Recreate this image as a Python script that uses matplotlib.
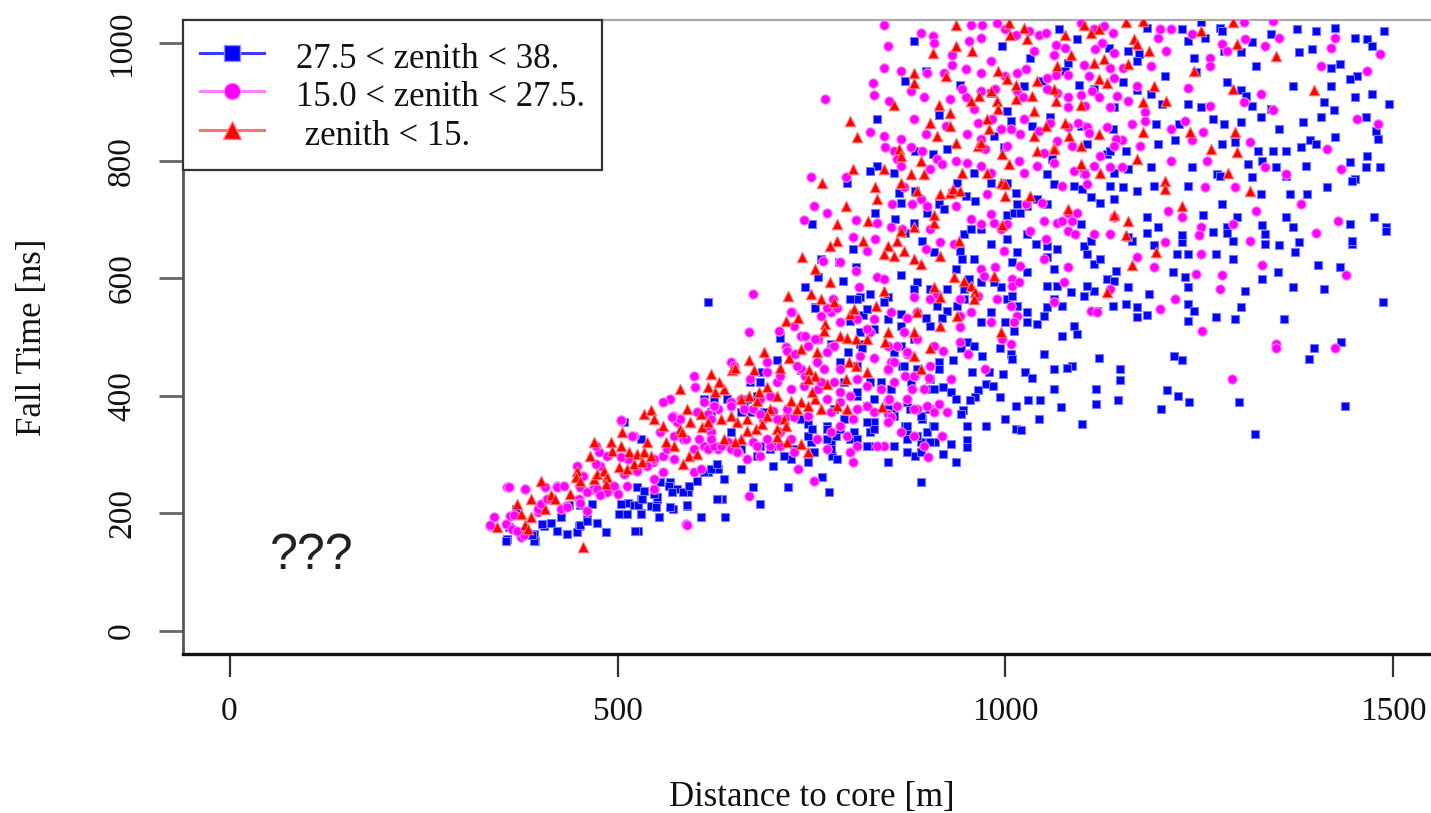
import matplotlib
matplotlib.use("Agg")
import matplotlib.pyplot as plt
from matplotlib.lines import Line2D

plt.rcParams['font.family'] = ['Liberation Serif', 'DejaVu Serif']

# ---------------- data (distance to core [m], fall time [ns]) ----------------
legend_labels = ['27.5 < zenith < 38.', '15.0 < zenith < 27.5.', ' zenith < 15.']
x_ticks = [0, 500, 1000, 1500]
y_ticks = [0, 200, 400, 600, 800, 1000]

# zenith < 15
red_pts = [
    (455,143),(581,411),
    (800,868),(809,840),(804,786),(764,763),(832,755),(835,735),(795,723),(823,697),(783,692),(783,663),
    (817,663),(774,655),(738,636),(755,615),(774,594),(720,570),(749,573),(762,565),
    (1155,1036),(1177,1039),(1252,1022),(1293,1036),(1166,1007),(1298,999),(1169,999),(1185,988),
    (1158,965),(1243,953),(1348,979),(1191,928),(1293,922),(1398,920),(1177,900),(1207,902),(1177,849),
    (1238,849),(1296,849),(1265,820),(1298,815),(1169,803),(1287,780),(1205,766),(1205,752),(1315,749),
    (1158,698),(1227,724),(1163,622),(1155,673),(1194,644),
]
red_band = [
    (345,176),(371,216),(388,224),(375,199),(381,179),(401,255),(414,230),(420,224),(407,207),(388,193),
    (439,233),(448,272),(446,261),(452,255),(470,258),(474,267),(482,272),(487,261),(485,250),(470,321),
    (465,298),(491,321),(493,306),(504,315),(506,338),(515,304),(502,278),(512,275),(521,284),(525,301),
    (534,304),(538,321),(532,287),(543,298),(534,369),(543,375),(547,360),(558,349),(562,321),(573,315),
    (581,343),(583,338),(594,355),(609,346),(607,369),(590,377),(592,298),(585,284),(603,301),(384,173),
    (620,437),(648,443),(652,448),(669,460),(676,443),(689,474),(710,448),(717,528),(732,533),(768,522),
    (766,511),(779,559),(800,539),(805,548),(787,502),(796,499),(807,496),(822,496),(845,491),(736,479),
    (757,474),(721,465),(747,443),(755,434),(745,428),(798,457),(807,451),(822,440),(794,428),
    (882,468),(903,482),(891,445),(833,553),(616,414),(626,406),(637,411),(631,423),(659,394),(669,400),
    (680,391),(682,406),(693,414),(706,400),(697,377),(723,391),(736,389),(745,383),(731,377),(755,394),
    (751,406),(770,420),(762,377),(714,360),(693,366),(667,360),(654,355),(646,366),(633,360),(616,355),
    (637,326),(659,326),(667,340),(678,343),(686,352),(706,343),(717,349),(719,321),(736,318),(745,304),
    (706,329),(783,383),(796,377),(841,380),(652,321),
]
red_top = [
    (936,1032),(1004,1035),(1024,1027),(1101,1032),(1110,1018),(1120,1024),(1028,1007),(1006,1015),
    (1077,1015),(936,996),(957,987),(906,984),(1084,981),(1067,961),(1114,967),(1127,973),(1131,933),
    (1120,939),(882,950),(882,933),(923,945),(991,953),(1002,939),(1013,930),(1041,936),(1062,922),
    (981,919),(966,911),(955,902),(989,902),(1013,905),(1034,911),(1065,902),(1097,896),(856,896),
    (914,896),(929,882),(976,871),(991,888),(903,865),(929,859),(912,842),(979,854),(1037,885),
    (1037,842),(1052,859),(1077,865),(1062,823),(1082,842),(1120,845),(1097,825),(964,825),(968,831),
    (996,811),(936,831),(863,820),(865,808),(891,800),(843,786),(944,780),(1004,794),(1041,817),
    (1062,820),(1097,794),(1122,780),(976,780),(878,777),(895,777),
    (865,763),(886,749),(916,743),(929,746),(933,752),(942,749),(994,763),(1000,760),(1032,741),
    (1000,741),(908,695),(908,707),(882,687),(865,681),(860,664),(848,655),(843,641),(856,638),(869,647),
    (882,633),(891,624),(940,664),(916,638),(934,602),(946,596),(955,587),(961,576),(959,565),(908,585),
    (916,568),(985,604),(996,690),(1080,718),(1140,707),(1131,576),(843,579),(886,542),(938,536),
    (916,519),(848,508),(882,508),(994,508),
]

# 15.0 < zenith < 27.5
magenta_pts = [
    (358,245),(336,178),(375,160),(362,195),(381,241),(397,202),(414,224),(422,246),(433,212),(450,224),
    (461,204),(468,241),(478,280),(456,263),(495,241),(504,357),(487,297),(513,292),(521,331),(546,287),
    (559,270),(568,394),(572,365),(598,433),(600,414),(581,360),(585,326),(611,314),(616,369),(629,377),
    (646,457),(646,389),(659,394),(620,338),(629,309),(642,321),(655,304),(667,292),(598,270),(607,275),
    (588,182),(669,229),(684,394),(697,399),(688,360),(706,360),(719,365),(675,321),(697,314),(684,297),
    (727,304),(710,338),(732,275),(753,255),(706,423),(723,411),(736,445),(742,433),(758,411),(766,445),
    (775,372),(787,389),(804,360),(804,287),(770,309),
    (829,932),(830,913),(768,905),(826,849),(749,772),(794,772),(753,723),(770,712),(740,700),(807,700),
    (835,695),(804,670),(832,667),(822,646),(765,629),(787,627),(807,612),(835,602),(674,573),(778,565),
    (811,585),(725,542),(669,508),(736,502),(775,483),(758,496),(717,483),(813,468),(826,508),(860,485),
    (1196,1010),(1241,1016),(1309,1007),(1353,1010),(1425,1010),(1334,996),(1279,999),(1199,1024),
    (1213,1024),(1307,1036),(1345,1039),(1207,988),(1263,976),(1285,988),(1420,993),(1483,982),
    (1152,959),(1188,962),(1263,962),(1406,962),(1466,953),(1169,928),(1235,925),(1329,914),(1158,902),
    (1180,883),(1263,894),(1307,900),(1345,886),(1163,863),(1180,868),(1213,854),(1232,868),(1254,849),
    (1453,871),(1480,863),(1150,835),(1174,826),(1241,835),(1315,832),(1414,820),(1150,789),(1213,800),
    (1260,800),(1334,789),(1433,786),(1257,755),(1296,755),(1362,778),(1381,727),(1210,715),(1227,704),
    (1252,687),(1293,693),(1323,715),(1428,698),
    (1169,636),(1205,661),(1252,641),(1315,664),(1400,678),(1191,619),(1246,607),(1279,605),(1331,622),
    (1439,605),(1276,582),(1199,548),(1218,565),(1249,673),
    (1253,511),(1348,488),(1348,482),(1425,482),(1292,428),(973,445),(930,428),(918,332),(900,295),
    (843,315),(886,377),(925,372),(914,386),(995,496),(1007,488),(952,471),(941,491),(902,431),(884,434),
    (871,434),(880,411),(848,392),(848,369),(853,363),(920,477),(873,471),(853,457),(848,443),
]
magenta_band = [
    (360,244),(381,241),(341,193),(336,179),(356,182),(366,196),(364,173),(397,207),(401,216),(407,244),
    (422,244),(431,247),(409,224),(427,207),(435,210),(448,281),(452,244),(461,236),(472,284),(474,241),
    (476,304),(487,236),(495,247),(500,233),(508,267),(512,247),(504,295),(525,272),(538,281),(547,292),
    (547,258),(547,241),(558,298),(564,309),(573,332),(577,355),(588,326),(573,292),(598,309),(605,326),
    (616,309),(620,338),(624,315),(624,383),(620,360),(603,372),(581,360),(570,363),(558,389),(555,338),
    (519,332),(504,358),(472,315),(590,179),(478,230),(452,218),(379,162),(371,170),
    (708,511),(723,542),(727,519),(742,502),(755,496),(745,485),(719,477),(729,471),(757,457),(770,474),
    (779,485),(762,536),(775,542),(787,525),(770,550),(783,550),(809,531),(822,513),(830,531),
    (848,485),(830,465),(848,445),(856,457),(873,474),(886,496),
    (908,485),(903,451),(882,434),(895,411),(873,394),(856,423),(839,411),(822,417),(809,428),(787,445),
    (779,423),(762,423),(740,417),(731,451),(710,434),(693,440),(693,457),(671,428),(650,451),(611,389),
    (624,383),(646,383),(663,377),(674,377),(684,369),(701,374),(719,377),(727,363),(745,366),(770,394),
    (787,406),(800,400),(809,377),(822,383),(830,372),(850,394),(860,383),(882,377),(899,383),(908,372),
    (616,349),(620,326),(633,315),(646,309),(654,304),(680,315),(693,326),(710,315),(723,326),(757,326),
    (775,338),(787,349),(796,332),(809,315),(800,304),(835,315),(848,355),(865,338),(882,332),(895,315),
]
magenta_top = [
    (843,1032),(848,996),(891,1018),(906,1013),(908,1001),(931,981),(931,964),(953,1004),(968,1010),
    (981,970),(955,1032),(970,1032),(989,1035),(1000,1024),(1013,1015),(1030,1021),(1043,1015),
    (1052,1018),(1065,998),(1077,993),(1062,981),(1097,1035),(1114,1024),(1127,1030),(1138,1018),
    (1125,1001),(1116,990),(1140,984),(843,959),(865,953),(899,950),(921,950),(949,956),(968,950),
    (1015,950),(1026,956),(1037,987),(1054,942),(1065,947),(1080,947),(1101,964),(1107,945),(1135,959),
    (1140,942),(878,919),(895,908),(929,905),(949,908),(959,888),(850,902),(944,922),(968,919),(987,922),
    (1000,945),(1015,919),(1022,908),(1054,922),(1067,916),(1080,908),(1097,913),(1112,919),(1120,908),
    (1135,891),(1144,911),(1103,893),(1080,891),(923,859),(882,871),(897,845),(843,842),(865,837),
    (878,823),(951,845),(964,865),(983,871),(968,837),(994,854),(1007,854),(1019,845),(1024,871),
    (1043,851),(1058,865),(1080,857),(1093,865),(1105,857),(1108,848),(1131,857),(1142,837),(1122,808),
    (1114,791),(1086,825),(1067,834),(1049,814),(1017,800),(1002,825),(974,820),(951,797),(936,800),
    (912,803),(893,817),(856,817),(845,823),(860,803),(865,791),(903,786),(918,794),(968,791),(981,780),
    (1024,780),(1041,791),(1062,797),(1088,783),(1103,777),(1135,789),(1140,825),
    (869,755),(891,735),(880,726),(854,726),(899,724),(936,724),(955,701),(976,743),(981,709),(968,692),
    (985,695),(994,684),(1002,692),(1026,726),(1032,681),(1047,729),(1049,698),(1052,667),(1067,695),
    (1080,712),(1086,698),(1080,681),(1090,675),(1105,760),(1073,758),(1114,675),(1135,675),(1140,704),
    (852,687),(867,684),(903,684),(916,661),(897,650),(934,658),(998,647),(1049,633),(1080,619),
    (1019,621),(987,619),(968,616),(972,604),(1009,599),(1009,587),(1017,593),(843,599),(882,568),
    (903,565),(912,573),(942,565),(964,570),(989,565),(1007,553),(1015,536),(1011,525),(981,525),
    (955,542),(942,536),(886,542),(873,533),(852,542),(869,508),(942,517),(1062,559),(1075,593),
    (1110,545),(1118,542),(1135,582),(1092,712),(1073,698),
]

# 27.5 < zenith < 38
blue_pts = [
    (358,156),(394,153),(392,165),(360,176),(405,178),(422,170),(435,165),(450,178),(461,190),(474,184),
    (485,168),(526,170),(504,199),(513,218),(530,201),(530,224),(543,212),(553,193),(551,224),(568,253),
    (572,207),(577,241),(590,212),(591,236),(607,193),(635,224),(639,193),(616,270),(629,275),(637,258),
    (659,275),(674,245),(684,216),(720,245),(772,236),(764,261),(745,287),(777,297),(701,280),(680,297),
    (723,292),(749,321),(775,321),(781,331),(783,292),(770,348),(826,338),(830,355),(826,314),(800,326),
    (809,399),(822,383),(684,423),(680,399),(671,372),(701,314),(736,360),(745,331),(629,224),
    (834,871),(835,791),(826,783),(796,763),(832,712),(751,692),(804,650),(762,633),(785,627),(758,602),
    (807,619),(741,585),(790,595),(813,568),(826,573),(809,565),(616,559),(755,551),(800,527),(710,500),
    (813,488),(856,474),(758,496),(813,508),(830,514),(816,537),(775,488),(797,474),
    (1183,1027),(1227,1024),(1276,1027),(1376,1024),(1400,1022),(1425,1027),(1488,1022),(1252,1036),
    (1235,1005),(1257,1010),(1279,1022),(1318,1002),(1342,1016),(1450,1010),(1466,1007),(1158,988),
    (1172,982),(1243,976),(1304,985),(1378,985),(1395,990),(1472,996),(1282,988),(1169,971),(1205,945),
    (1246,951),(1323,962),(1420,959),(1431,965),(1453,945),(1152,934),(1169,920),(1188,914),(1285,934),
    (1304,920),(1310,911),(1370,928),(1420,928),(1472,914),(1444,939),(1202,897),(1235,897),(1252,891),
    (1318,894),(1342,888),(1411,900),(1450,908),(1494,897),(1423,886),(1194,863),(1224,863),(1268,871),
    (1282,863),(1304,866),(1329,874),(1353,854),(1384,866),(1406,874),(1464,874),(1478,851),(1155,817),
    (1196,829),(1218,835),(1279,829),(1296,832),(1326,817),(1345,817),(1362,817),(1381,823),(1392,835),
    (1400,829),(1425,840),(1480,837),(1466,809),(1158,786),(1188,789),(1241,789),(1273,778),(1312,795),
    (1331,800),(1348,789),(1362,775),(1387,792),(1444,798),(1464,789),(1483,789),(1450,769),(1152,755),
    (1169,749),(1191,758),(1235,758),(1276,775),(1318,772),(1329,744),(1367,744),(1389,744),(1414,755),
    (1447,766),(1183,704),(1196,687),(1254,707),(1279,727),(1285,687),(1298,704),(1331,690),(1362,704),
    (1370,687),(1444,693),(1475,704),(1491,687),
    (1163,664),(1183,678),(1191,656),(1221,641),(1235,641),(1227,661),(1271,641),(1285,678),(1293,633),
    (1293,664),(1334,658),(1353,656),(1378,661),(1373,644),(1447,658),(1491,681),(1158,585),(1185,573),
    (1216,610),(1232,602),(1235,585),(1309,579),(1331,599),(1351,610),(1370,585),(1403,622),(1431,619),
    (1411,582),(1155,556),(1169,534),(1169,551),(1183,537),(1235,556),(1243,545),(1235,528),(1271,534),
    (1296,531),(1304,551),(1359,531),(1486,559),(1227,673),(1268,679),(1334,676),(1447,664),(1158,670),
    (950,491),(959,485),(943,482),(970,468),(993,482),(1007,471),(1009,462),(1050,471),(1120,465),
    (1086,451),(1079,448),(1063,445),(1147,445),(1147,426),(1217,468),(1228,460),(1391,462),(1398,482),
    (1432,491),(1208,409),(1222,400),(1237,389),(1301,389),(1437,383),(1321,335),(1201,378),(1145,392),
    (1117,411),(1117,386),(1099,352),(1072,380),(1063,411),(1043,360),(1045,392),(1029,392),(1013,383),
    (1013,343),(1020,341),(1000,360),(993,397),(975,420),(984,417),(979,440),(997,437),(1025,440),
    (1034,431),(964,409),(961,397),(954,392),(930,406),(936,394),(945,375),(943,369),(950,349),(975,349),
    (950,324),(950,312),(936,287),(920,301),(930,318),(907,349),(902,377),(893,360),(877,377),(871,349),
    (873,335),(873,389),(886,332),(891,321),(884,298),(909,321),(848,287),(891,253),(853,411),(866,451),
    (914,457),(914,445),(920,414),(932,460),(898,411),(957,440),(855,377),
]
blue_band = [
    (356,153),(392,153),(390,162),(403,182),(414,184),(422,170),(435,165),(448,168),(452,179),(461,187),
    (474,184),(485,167),(523,170),(502,199),(512,199),(504,216),(521,213),(530,199),(527,213),(532,224),
    (549,210),(553,193),(551,227),(547,233),(555,253),(566,247),(570,236),(568,210),(585,236),(592,247),
    (590,213),(607,193),(603,255),(611,270),(620,275),(628,284),(628,224),(530,326),(508,355),(525,244),
    (534,238),(467,216),(452,213),(437,213),(427,193),(369,207),
    (710,499),(755,550),(800,565),(822,548),(882,496),
    (865,485),(856,474),(869,451),(815,482),(809,451),(787,457),(736,443),(706,460),(686,440),(671,423),
    (667,394),(663,383),(659,372),(641,394),(624,394),(611,394),(620,372),(689,372),(710,360),(736,360),
    (745,352),(751,343),(770,343),(779,377),(792,360),(787,343),(805,338),(809,406),(792,423),(830,394),
    (826,423),(839,423),(852,411),(830,343),(822,355),(848,377),(856,366),(873,389),(878,423),(886,445),
    (903,428),(908,411),(891,366),(873,349),(873,326),(886,332),(899,338),(908,349),(903,321),(891,304),
    (873,304),(856,315),(822,315),(809,326),(770,326),(775,309),(753,304),(727,309),(697,309),(714,298),
    (684,315),(659,309),(646,338),
]
blue_top = [
    (882,1004),(996,996),(1032,976),(1069,1024),(1092,1007),(1133,993),(1080,967),(1077,953),(897,953),
    (871,936),(942,930),(981,916),(1024,927),(1047,936),(1095,930),(1114,922),(1140,891),(914,879),
    (1002,885),(1007,868),(1034,859),(1058,874),(985,842),(998,823),(1060,803),(1097,859),(1105,828),
    (1131,811),(1138,854),(1140,780),(884,817),(906,811),(856,780),(925,820),(959,780),(1054,777),
    (1101,780),(1135,817),
    (863,746),(865,729),(884,749),(914,726),(931,746),(938,763),(949,741),(961,732),(981,763),(1002,763),
    (1013,746),(1015,726),(1028,724),(1041,735),(1054,726),(1062,760),(1088,758),(1099,752),(1110,738),
    (1122,729),(1140,735),(1135,758),(899,712),(882,695),(871,678),(921,718),(946,675),(955,684),
    (968,684),(942,647),(944,633),(936,616),(959,633),(981,658),(1002,707),(1011,712),(1019,712),
    (1002,667),(1015,644),(1009,627),(1028,675),(1039,658),(1054,655),(1067,650),(1062,616),(1054,636),
    (1097,692),(1101,655),(1110,664),(1105,641),(1114,624),(1122,633),(1131,599),(1140,596),(1142,613),
    (1138,553),(1118,545),(1114,579),(1101,570),(1084,576),(1067,587),(1054,587),(1062,565),(1054,551),
    (1049,536),(1041,522),(1028,525),(1015,553),(1002,565),(994,585),(985,593),(968,593),(953,599),
    (946,582),(946,565),(938,553),(925,545),(912,553),(925,582),(903,582),(886,593),(882,582),(865,605),
    (848,568),(843,559),(865,539),(848,531),(865,519),(897,533),(903,519),(918,533),(968,525),(981,542),
    (1000,525),(1011,511),(1028,542),(1073,553),(1088,519),(1073,502),(1092,505),(1009,570),(1105,587),
    (1028,610),(858,701),(893,664),(908,644),
]

blue_x = [p[0] for p in blue_pts + blue_band + blue_top]
blue_y = [p[1] for p in blue_pts + blue_band + blue_top]
mag_x = [p[0] for p in magenta_pts + magenta_band + magenta_top]
mag_y = [p[1] for p in magenta_pts + magenta_band + magenta_top]
red_x = [p[0] for p in red_pts + red_band + red_top]
red_y = [p[1] for p in red_pts + red_band + red_top]

# ---------------- figure ----------------
W, H = 1431, 813
fig = plt.figure(figsize=(W / 100, H / 100), dpi=100)
ax = fig.add_axes([183 / W, 1 - 654 / H, (1440 - 183) / W, (654 - 20) / H])
ax.set_xlim(-60, 1560)
ax.set_ylim(-40, 1040)

ax.scatter(blue_x, blue_y, marker='s', s=38, c='#0000ff', edgecolors='#7878ff', linewidths=0.8, zorder=2)
ax.scatter(mag_x, mag_y, marker='o', s=46, c='#ff00ff', edgecolors='#ff88ff', linewidths=0.8, zorder=3)
ax.scatter(red_x, red_y, marker='^', s=58, c='#ff0000', edgecolors='#ff7878', linewidths=0.8, zorder=4)

# spines
ax.spines['right'].set_visible(False)
ax.spines['top'].set_color('#aaaaaa')
ax.spines['top'].set_linewidth(1.6)
ax.spines['left'].set_color('#555555')
ax.spines['left'].set_linewidth(2.0)
ax.spines['bottom'].set_color('#111111')
ax.spines['bottom'].set_linewidth(2.4)

ax.set_xticks(x_ticks)
ax.set_xticklabels([str(v) for v in x_ticks])
ax.set_yticks(y_ticks)
ax.set_yticklabels([str(v) for v in y_ticks])
ax.tick_params(axis='x', length=16.5, width=1.6, color='#333333', pad=14, labelsize=24, labelcolor='#111111')
ax.tick_params(axis='y', length=17, width=2.0, color='#666666', pad=16, labelsize=24, labelcolor='#111111')
for lbl in ax.get_yticklabels():
    lbl.set_rotation(90)
    lbl.set_va('center')

ax.set_xlabel('Distance to core [m]', fontsize=25, color='#111111')
ax.set_ylabel('Fall Time [ns]', fontsize=25, color='#111111')
ax.xaxis.set_label_coords(0.5, (654 - 797) / 634)
ax.xaxis.label.set_va('center')
ax.yaxis.set_label_coords((33 - 183) / 1257, 0.5)
ax.yaxis.label.set_va('center')

ax.text(106, 105, '???', fontsize=36, family='Liberation Sans', color='#222222',
        ha='center', va='baseline')

handles = [
    Line2D([0], [0], color='#3a3aff', lw=2.2, marker='s', markersize=12, markerfacecolor='#0000ff',
           markeredgecolor='#9090ff', markeredgewidth=1),
    Line2D([0], [0], color='#ff80ff', lw=2.2, marker='o', markersize=12, markerfacecolor='#ff00ff',
           markeredgecolor='#ff99ff', markeredgewidth=1),
    Line2D([0], [0], color='#ff7070', lw=2.2, marker='^', markersize=13, markerfacecolor='#ff0000',
           markeredgecolor='#ff8080', markeredgewidth=1),
]
leg = ax.legend(handles, legend_labels, loc='upper left', bbox_to_anchor=(0, 1), borderaxespad=0,
                fancybox=False, edgecolor='#333333', framealpha=1, fontsize=25,
                handlelength=1.83, handleheight=1.3, handletextpad=0.92, borderpad=0.5,
                labelspacing=0.0)
leg.get_frame().set_linewidth(1.6)
for t in leg.get_texts():
    t.set_color('#111111')

fig.savefig('out.png', dpi=100, facecolor='white')
